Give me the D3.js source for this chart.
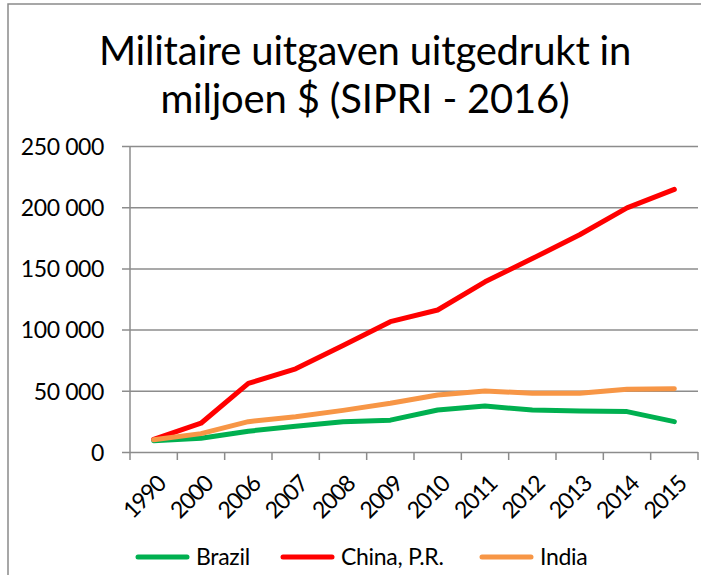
<!DOCTYPE html>
<html>
<head>
<meta charset="UTF-8">
<title>Militaire uitgaven</title>
<script src="https://cdn.jsdelivr.net/npm/d3@7"></script>
<style>
    body { margin: 0; background: #fff; }
    svg text { font-family: Lato, "Open Sans", sans-serif; fill: #000; }
</style>
</head>
<body>
<svg id="chart" width="701" height="575"></svg>
<script>
    // data (miljoen $)
    const years = ["1990", "2000", "2006", "2007", "2008", "2009", "2010", "2011", "2012", "2013", "2014", "2015"];
    const brazil = [9200, 11200, 17000, 21000, 24800, 26000, 34300, 37500, 34300, 33500, 33000, 24800];
    const china = [10400, 23500, 56000, 68000, 87000, 106500, 116000, 139000, 158000, 177500, 199500, 214500];
    const india = [10000, 15000, 24800, 28800, 34000, 39800, 46600, 49800, 48000, 48000, 51200, 51600];
    const yTicks = [0, 50000, 100000, 150000, 200000, 250000];
    const seriesNames = ["Brazil", "China, P.R.", "India"];
    const seriesColors = ["#00B050", "#FF0000", "#F79646"];

    const svg = d3.select("#chart");
    const plotL = 130, plotR = 698, plotT = 146, plotB = 452;

    const x = d3.scaleBand().domain(years).range([plotL, plotR]);
    const y = d3.scaleLinear().domain([0, 250000]).range([plotB, plotT]);
    const fmt = v => d3.format(",")(v).replace(/,/g, " ");

    // outer border (only left and top visible)
    svg.append("path")
        .attr("d", "M8,575 V4 H701")
        .attr("fill", "none")
        .attr("stroke", "#8a8a8a")
        .attr("stroke-width", 1.5);

    // title
    const title = svg.append("text")
        .attr("text-anchor", "middle")
        .style("font-size", "40px")
        .style("letter-spacing", "-0.2px");
    title.append("tspan").attr("x", 365).attr("y", 65).text("Militaire uitgaven uitgedrukt in");
    title.append("tspan").attr("x", 365).attr("y", 113).text("miljoen $ (SIPRI - 2016)");

    // gridlines + y axis
    const yAxis = d3.axisLeft(y).tickValues(yTicks).tickFormat(fmt)
        .tickSize(-(plotR - plotL)).tickPadding(26);
    const gy = svg.append("g").attr("transform", `translate(${plotL},0)`).call(yAxis);
    gy.select(".domain").remove();
    gy.selectAll(".tick line").attr("stroke", "#8c8c8c").attr("stroke-width", 1.5).attr("x1", -8);
    gy.selectAll(".tick text").style("font-size", "23px").style("letter-spacing", "-0.4px").attr("dy", "0.36em");

    // y axis line
    svg.append("line")
        .attr("x1", plotL).attr("x2", plotL)
        .attr("y1", plotT).attr("y2", plotB)
        .attr("stroke", "#8c8c8c").attr("stroke-width", 1.5);

    // x axis ticks at band edges
    const edges = years.map(d => x(d)).concat([plotR]);
    svg.append("g").selectAll("line").data(edges).join("line")
        .attr("x1", d => d).attr("x2", d => d)
        .attr("y1", plotB).attr("y2", plotB + 8)
        .attr("stroke", "#8c8c8c").attr("stroke-width", 1.5);

    // x labels, rotated
    svg.append("g").selectAll("text").data(years).join("text")
        .attr("text-anchor", "end")
        .attr("transform", d => `translate(${x(d) + x.bandwidth() / 2 + 2},${plotB + 22}) rotate(-45)`)
        .attr("dy", "0.7em")
        .style("font-size", "23px")
        .style("letter-spacing", "-1.2px")
        .text(d => d);

    // lines
    const line = d3.line()
        .x((d, i) => x(years[i]) + x.bandwidth() / 2)
        .y(d => y(d));

    [brazil, china, india].forEach((s, k) => {
        svg.append("path")
            .datum(s)
            .attr("d", line)
            .attr("fill", "none")
            .attr("stroke", seriesColors[k])
            .attr("stroke-width", 5)
            .attr("stroke-linejoin", "round")
            .attr("stroke-linecap", "round");
    });

    // legend
    const legendX = [138, 283, 482];
    const ly = 557;
    const legend = svg.append("g");
    seriesNames.forEach((name, k) => {
        legend.append("line")
            .attr("x1", legendX[k]).attr("x2", legendX[k] + 49)
            .attr("y1", ly).attr("y2", ly)
            .attr("stroke", seriesColors[k])
            .attr("stroke-width", 5)
            .attr("stroke-linecap", "round");
        legend.append("text")
            .attr("x", legendX[k] + 58).attr("y", ly)
            .attr("dy", "0.36em")
            .style("font-size", "23px")
            .style("letter-spacing", "-0.3px")
            .text(name);
    });
</script>
</body>
</html>
